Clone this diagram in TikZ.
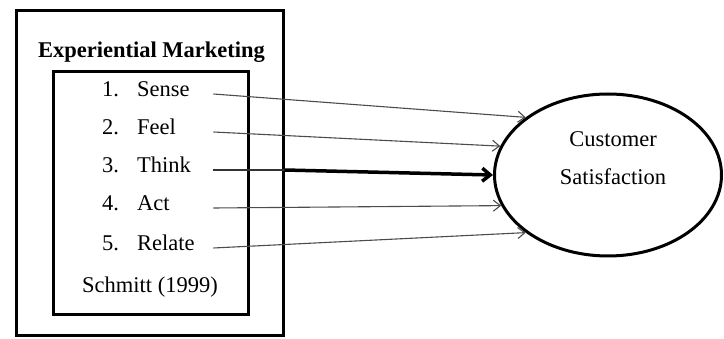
\documentclass[tikz,border=0pt]{standalone}
\usepackage{fontspec}
\setmainfont{Liberation Serif}
\usetikzlibrary{shapes.geometric,arrows.meta}
\begin{document}
\begin{tikzpicture}[x=1pt, y=-1pt]
\useasboundingbox (0,0) rectangle (724,339);

\tikzstyle{every node} = [font=\fontsize{22.5}{27}\selectfont]
\tikzstyle{box} = [rectangle, draw, line width=3pt]
\tikzstyle{item} = [anchor=west, text width=111pt, align=left, inner sep=0pt, text height=1.5ex, text depth=.25ex]
\tikzstyle{link} = [draw=black!70, line width=1.1pt, -{Straight Barb[length=7pt,width=11pt]}]

\node[box, minimum width=267pt, minimum height=325pt] (m) at (149.5,173.5) {};
\node[box, minimum width=195pt, minimum height=243pt] (b) at (150.5,193.5) {};
\node[font=\fontsize{22.5}{27}\selectfont\bfseries] (t) at (151.5,52) {Experiential Marketing};

\node[item] (s1) at (102,94) {\makebox[35pt][l]{1.}Sense};
\node[item] (s2) at (102,132) {\makebox[35pt][l]{2.}Feel};
\node[item] (s3) at (102,170) {\makebox[35pt][l]{3.}Think};
\node[item] (s4) at (102,208) {\makebox[35pt][l]{4.}Act};
\node[item] (s5) at (102,248) {\makebox[35pt][l]{5.}Relate};
\node (r) at (150,287) {Schmitt (1999)};

\node[ellipse, draw, line width=3pt, minimum width=227pt, minimum height=162pt] (c) at (608,175) {};
\node[align=center, font=\fontsize{22.5}{38}\selectfont] (ct) at (613,158) {Customer\\Satisfaction};

\coordinate (e) at (s3 -| m.east);

\draw[link] (s1.east) -- (c.145.5);
\draw[link] (s2.east) -- (c.165.8);
\draw[draw=black!80, line width=1.6pt] (s3.east) -- (e);
\draw[line width=3.5pt, -{Straight Barb[length=8pt,width=13pt]}] (e) -- (c.west);
\draw[link] (s4.east) -- (c.-164.7);
\draw[link] (s5.east) -- (c.-145);

\end{tikzpicture}
\end{document}
